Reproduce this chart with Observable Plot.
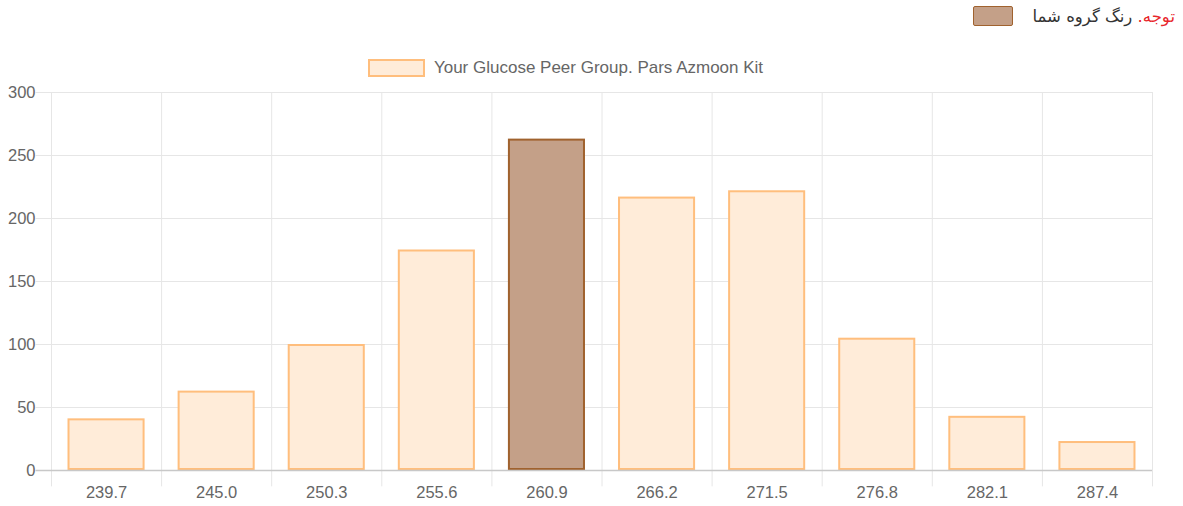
<!DOCTYPE html>
<html>
<head>
<meta charset="utf-8">
<script src="https://cdn.jsdelivr.net/npm/d3@7"></script>
<script src="https://cdn.jsdelivr.net/npm/@observablehq/plot@0.6"></script>
<style>
  body { margin: 0; background: #fff; font-family: "Liberation Sans", Arial, sans-serif; }
  #wrap { position: relative; width: 1183px; height: 506px; }
  #note { position: absolute; top: 6px; right: 8px; display: flex; align-items: center; direction: rtl; font-family: "DejaVu Sans", "Noto Sans", sans-serif; font-size: 16.5px; color: #333; }
  #note .sw { width: 38px; height: 18px; background: #c4a088; border: 1.5px solid #a0622e; border-radius: 2px; margin-right: 20px; }
  #legend { position: absolute; top: 58px; left: 0; width: 1131px; display: flex; justify-content: center; align-items: center; font-size: 17px; color: #666; }
  #legend .sw { width: 53px; height: 14px; background: #ffecd9; border: 2px solid #ffbe7d; margin-right: 9px; }
  #chart { position: absolute; top: 80px; left: 0; }
</style>
</head>
<body>
<div id="wrap">
  <div id="note"><span style="color:#e8262a">توجه.</span>&nbsp;<span>رنگ گروه شما</span><div class="sw"></div></div>
  <div id="legend"><div class="sw"></div><span>Your Glucose Peer Group. Pars Azmoon Kit</span></div>
  <div id="chart"></div>
</div>
<script>
const categories = ["239.7", "245.0", "250.3", "255.6", "260.9", "266.2", "271.5", "276.8", "282.1", "287.4"];
const counts = [41, 63, 100, 175, 263, 217, 222, 105, 43, 23];
const highlighted = "260.9";
const yTicks = [0, 50, 100, 150, 200, 250, 300];

const data = categories.map((c, i) => ({cat: c, i, value: counts[i], hi: c === highlighted}));
const boundaries = d3.range(categories.length + 1);

const chart = Plot.plot({
  width: 1183,
  height: 426,
  marginTop: 12,
  marginBottom: 36,
  marginLeft: 51,
  marginRight: 31,
  style: {fontFamily: "'Liberation Sans', Arial, sans-serif", fontSize: "16.5px", color: "#666"},
  x: {type: "linear", domain: [0, categories.length], axis: null},
  y: {domain: [0, 300], axis: null},
  marks: [
    Plot.ruleY(yTicks, {x1: -0.14, x2: categories.length, stroke: "#e6e6e6", strokeWidth: 1}),
    Plot.ruleX(boundaries, {y1: -13, y2: 300, stroke: "#e6e6e6", strokeWidth: 1, clip: false}),
    Plot.text(yTicks, {x: 0, y: d => d, text: d => String(d), textAnchor: "end", dx: -16, fill: "#666", fontSize: 16.5}),
    Plot.text(data, {x: d => d.i + 0.5, y: 0, text: "cat", dy: 22, fill: "#666", fontSize: 16.5}),
    Plot.rect(data, {
      x1: d => d.i + 0.15, x2: d => d.i + 0.85, y1: 0, y2: "value",
      fill: d => d.hi ? "#c4a088" : "#ffecd9",
      stroke: d => d.hi ? "#a0622e" : "#ffbe7d",
      strokeWidth: 2,
      inset: 1
    }),
    Plot.ruleY([0], {x1: -0.14, x2: categories.length, stroke: "#c8c8c8", strokeWidth: 1.5})
  ]
});
document.getElementById("chart").appendChild(chart);
</script>
</body>
</html>
